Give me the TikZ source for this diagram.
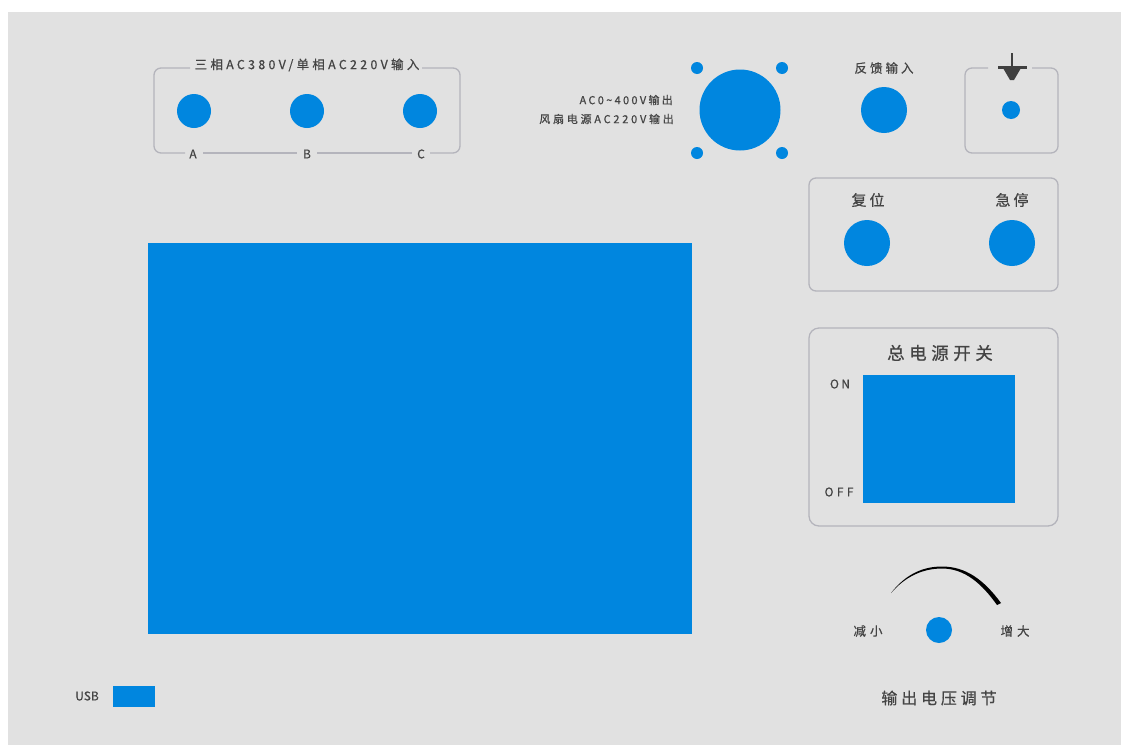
\documentclass[tikz,border=0pt]{standalone}
\usepackage{fontspec}
\setmainfont{Liberation Sans}
\newfontfamily\cjk{Noto Sans CJK SC}
\definecolor{panel}{HTML}{E1E1E1}
\definecolor{blu}{HTML}{0086DF}
\definecolor{edge}{HTML}{B4B4BC}
\definecolor{ink}{HTML}{444444}
\tikzset{
  x=1pt,y=-1pt,
  hole/.style={circle,fill=blu,draw=none,inner sep=0pt,minimum size=#1},
  block/.style={rectangle,fill=blu,draw=none,inner sep=0pt},
  frame/.style={draw=edge,line width=1.3pt,rounded corners=7pt},
  lab/.style 2 args={text=ink,inner sep=0pt,font=\cjk\fontsize{#1}{#1}\selectfont\addfontfeatures{LetterSpace=#2,FakeBold=0.6}}
}
\begin{document}
\begin{tikzpicture}
\useasboundingbox (0,0) rectangle (1121,745);
\fill[white] (0,0) rectangle (1121,745);
\fill[panel] (8,12) rectangle (1121,745);

% three-phase input frame
\draw[frame] (190,68) -- (154,68) -- (154,153) -- (185,153);
\draw[frame,rounded corners=0pt] (203,153) -- (297,153);
\draw[frame,rounded corners=0pt] (317,153) -- (412,153);
\draw[frame] (430,153) -- (460,153) -- (460,68) -- (422,68);
\node[lab={12.5}{26}] (t3) at (307,65) {三相AC380V/单相AC220V输入};
\node[lab={12}{0}] (la) at (193,154) {A};
\node[lab={12}{0}] (lb) at (307,154) {B};
\node[lab={12}{0}] (lc) at (421,154) {C};
\node[hole=34pt] (ha) at (194,111) {};
\node[hole=34pt] (hb) at (307,111) {};
\node[hole=34pt] (hc) at (420,111) {};

% output connector
\node[hole=81pt] (big) at (740,110) {};
\node[hole=12pt] (s1) at (697,68) {};
\node[hole=12pt] (s2) at (782,68) {};
\node[hole=12pt] (s3) at (697,153) {};
\node[hole=12pt] (s4) at (782,153) {};
\node[lab={11}{21},anchor=east] (o1) at (673,100) {AC0\textasciitilde 400V输出};
\node[lab={11}{25},anchor=east] (o2) at (674,119) {风扇电源AC220V输出};

% feedback
\node[lab={12.5}{24}] (fb) at (884,68) {反馈输入};
\node[hole=46pt] (hf) at (884,110) {};

% ground
\draw[frame] (988,68) -- (965,68) -- (965,153) -- (1058,153) -- (1058,68) -- (1032,68);
\coordinate (g0) at (1012,53);
\coordinate (g1) at (1012,68);
\draw[black!75,line width=2.5pt] (g0) -- (g1);
\draw[black!75,line width=3pt] (998,67) -- (1027,67);
\fill[black!75] (1003,68) -- (1021,68) -- (1014,80) -- (1010,80) -- cycle;
\node[hole=18pt] (hg) at (1011,110) {};

% reset / e-stop
\draw[frame] (809,178) rectangle (1058,291);
\node[lab={15}{20}] (fw) at (868,200) {复位};
\node[lab={15}{20}] (jt) at (1012,200) {急停};
\node[hole=46pt] (hr) at (867,243) {};
\node[hole=46pt] (he) at (1012,243) {};

% power switch
\draw[frame,rounded corners=10pt] (809,328) rectangle (1058,526);
\node[lab={17.5}{26}] (pw) at (940,353) {总电源开关};
\node[block,minimum width=152pt,minimum height=128pt,anchor=north west] (sw) at (863,375) {};
\node[lab={12}{20}] (on) at (840,384) {ON};
\node[lab={12}{28}] (off) at (839,492) {OFF};

% main screen
\node[block,minimum width=544pt,minimum height=391pt,anchor=north west] (scr) at (148,243) {};

% usb
\node[block,minimum width=42pt,minimum height=21pt,anchor=north west] (usb) at (113,686) {};
\node[lab={12}{0},anchor=east] (ul) at (99,696) {USB};

% knob
\node[hole=26pt] (kn) at (939,630) {};
\node[lab={12.5}{32}] (jx) at (868,631) {减小};
\node[lab={12.5}{32}] (zd) at (1015,631) {增大};
\node[lab={16}{24}] (tj) at (939,698) {输出电压调节};
\coordinate (a0) at (891,593);
\coordinate (a1) at (997,605);
\fill[black] (a0) .. controls (905,575) and (922,566.5) .. (942,566.5)
   .. controls (966,566.5) and (984,580) .. (1001,603)
   -- (a1) .. controls (982,584) and (965,568.5) .. (942,568.5)
   .. controls (922,568.5) and (905,577) .. (a0) -- cycle;
\end{tikzpicture}
\end{document}
